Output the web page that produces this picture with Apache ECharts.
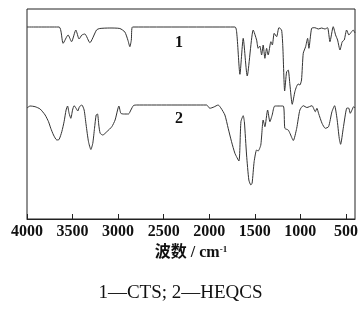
<!DOCTYPE html>
<html>
<head>
<meta charset="utf-8">
<script src="https://cdn.jsdelivr.net/npm/echarts@6/dist/echarts.min.js"></script>
<style>
html,body{margin:0;padding:0;background:#fff;}
#chart{width:361px;height:312px;}
</style>
</head>
<body>
<div id="chart"></div>
<script>
// tick labels on the wavenumber axis
var tickLabels = [4000, 3500, 3000, 2500, 2000, 1500, 1000, 500];

// curve 1 (CTS), wavenumber / relative transmittance
var wn1 = [4000, 3648, 3604, 3549, 3511, 3464, 3428, 3398, 3365, 3310, 3237, 3201, 3091, 2981, 2926, 2893, 2871, 2855, 2842,
	1718, 1696, 1663, 1627, 1583, 1517, 1480, 1463, 1444, 1425, 1408, 1389, 1370, 1353, 1323, 1307, 1287, 1260, 1235, 1206, 1192, 1172,
	1151, 1133, 1114, 1089, 1060, 1042, 1024, 1005, 987, 968, 942, 920, 906, 876, 840, 803, 766, 730, 701, 675, 639, 613, 591, 565,
	540, 518, 492, 467, 437, 420, 400];
var tr1 = [192, 192, 175.7, 184, 177.3, 189, 180, 184, 185, 176.3, 189, 190.5, 191, 190.5, 187, 179, 172.3, 179, 192,
	192, 184, 144.7, 180.7, 143, 189, 179, 170.7, 173, 164, 174, 160.7, 170.7, 164, 177.3, 174, 185.7, 182.3, 191.3, 189, 172, 128,
	147, 149, 134, 114.7, 127.3, 132.3, 135, 134, 139, 165.7, 172.3, 180.7, 170.7, 190.7, 191.3, 190, 191, 190, 191.3, 177.3, 192.3, 184, 179, 169,
	177.3, 179, 189, 184, 187.3, 189, 186];

// curve 2 (HEQCS)
var wn2 = [4000, 3966, 3911, 3856, 3801, 3764, 3739, 3709, 3673, 3648, 3618, 3593, 3571, 3555, 3538, 3519, 3500, 3483, 3461, 3442,
	3424, 3398, 3373, 3351, 3325, 3299, 3278, 3259, 3241, 3226, 3212, 3197, 3168, 3124, 3069, 3033, 3006, 2992, 2970, 2940, 2886,
	2860, 2831, 2794, 2029, 1993, 1949, 1902, 1872, 1828, 1792, 1755, 1718, 1674, 1652, 1627, 1614, 1590, 1565, 1543, 1529, 1507,
	1480, 1463, 1434, 1408, 1389, 1359, 1334, 1309, 1280, 1188, 1170, 1133, 1114, 1077, 1040, 1005, 968, 928, 872, 836, 818, 800,
	762, 726, 690, 653, 624, 598, 573, 558, 529, 492, 470, 452, 433, 415, 400];
var tr2 = [111, 113, 112.3, 110, 104, 97.3, 90.7, 84, 79, 79.5, 87.3, 97.3, 109, 113, 105.7, 100.7, 109, 113.3, 110.7, 108,
	112.3, 114, 109, 94, 77.3, 69.5, 75.7, 90.7, 104, 105, 94, 85.7, 84, 87.3, 92.3, 99, 109, 113, 105.7, 105, 105,
	109, 113.5, 114, 114, 110.7, 112, 114, 111, 104, 90.7, 77.3, 65.7, 58, 97.3, 103.3, 97, 64, 39, 34, 36, 57.3,
	69, 68, 74, 99, 92.3, 109, 97.3, 104, 113, 113, 90.7, 89, 85.7, 78.5, 90.7, 109, 113.3, 111.5, 113.3, 107.3, 110.7, 105.7,
	95.7, 90.7, 92.3, 107.3, 113.3, 100.7, 80.7, 74.7, 90.7, 110.7, 111, 105.7, 109, 112.3, 111];

function pairs(xs, ys){
	var out = [];
	for (var i = 0; i < xs.length; i++) out.push([xs[i], ys[i]]);
	return out;
}

var serif = '"Liberation Serif", "Times New Roman", "Noto Sans CJK SC", serif';
var chart = echarts.init(document.getElementById('chart'), null, {renderer: 'canvas'});

var option = {
	backgroundColor: '#fff',
	animation: false,
	grid: {left: 27, right: 6, top: 9, bottom: 93, show: true, borderColor: '#222', borderWidth: 1},
	xAxis: {
		type: 'value', min: 400, max: 4000, inverse: true,
		axisLine: {show: true, lineStyle: {color: '#222', width: 1}},
		axisTick: {show: true, inside: true, length: 5, customValues: tickLabels, lineStyle: {color: '#222'}},
		axisLabel: {
			customValues: tickLabels, margin: 5, color: '#111',
			fontFamily: serif, fontWeight: 'bold', fontSize: 16,
			formatter: function (v) { return String(v); }
		},
		splitLine: {show: false},
		name: '{a|波数 / cm}{s|-1}', nameLocation: 'middle', nameGap: 20,
		nameTextStyle: {
			rich: {
				a: {fontFamily: serif, fontWeight: 'bold', fontSize: 16, color: '#111'},
				s: {fontFamily: serif, fontWeight: 'bold', fontSize: 9, color: '#111', verticalAlign: 'top', padding: [0, 0, 7, 0]}
			}
		}
	},
	yAxis: {type: 'value', min: 0, max: 210, show: false},
	series: [
		{type: 'line', data: pairs(wn1, tr1), showSymbol: false, smooth: 0.2, lineStyle: {color: '#333', width: 1}},
		{type: 'line', data: pairs(wn2, tr2), showSymbol: false, smooth: 0.2, lineStyle: {color: '#333', width: 1}}
	],
	graphic: [
		{type: 'text', left: 175, top: 35, style: {text: '1', font: 'bold 16px ' + serif, fill: '#111'}},
		{type: 'text', left: 175, top: 111, style: {text: '2', font: 'bold 16px ' + serif, fill: '#111'}},
		{type: 'text', left: 'center', top: 284, style: {text: '1—CTS; 2—HEQCS', font: '19px ' + serif, fill: '#111'}}
	]
};
chart.setOption(option);
</script>
</body>
</html>
